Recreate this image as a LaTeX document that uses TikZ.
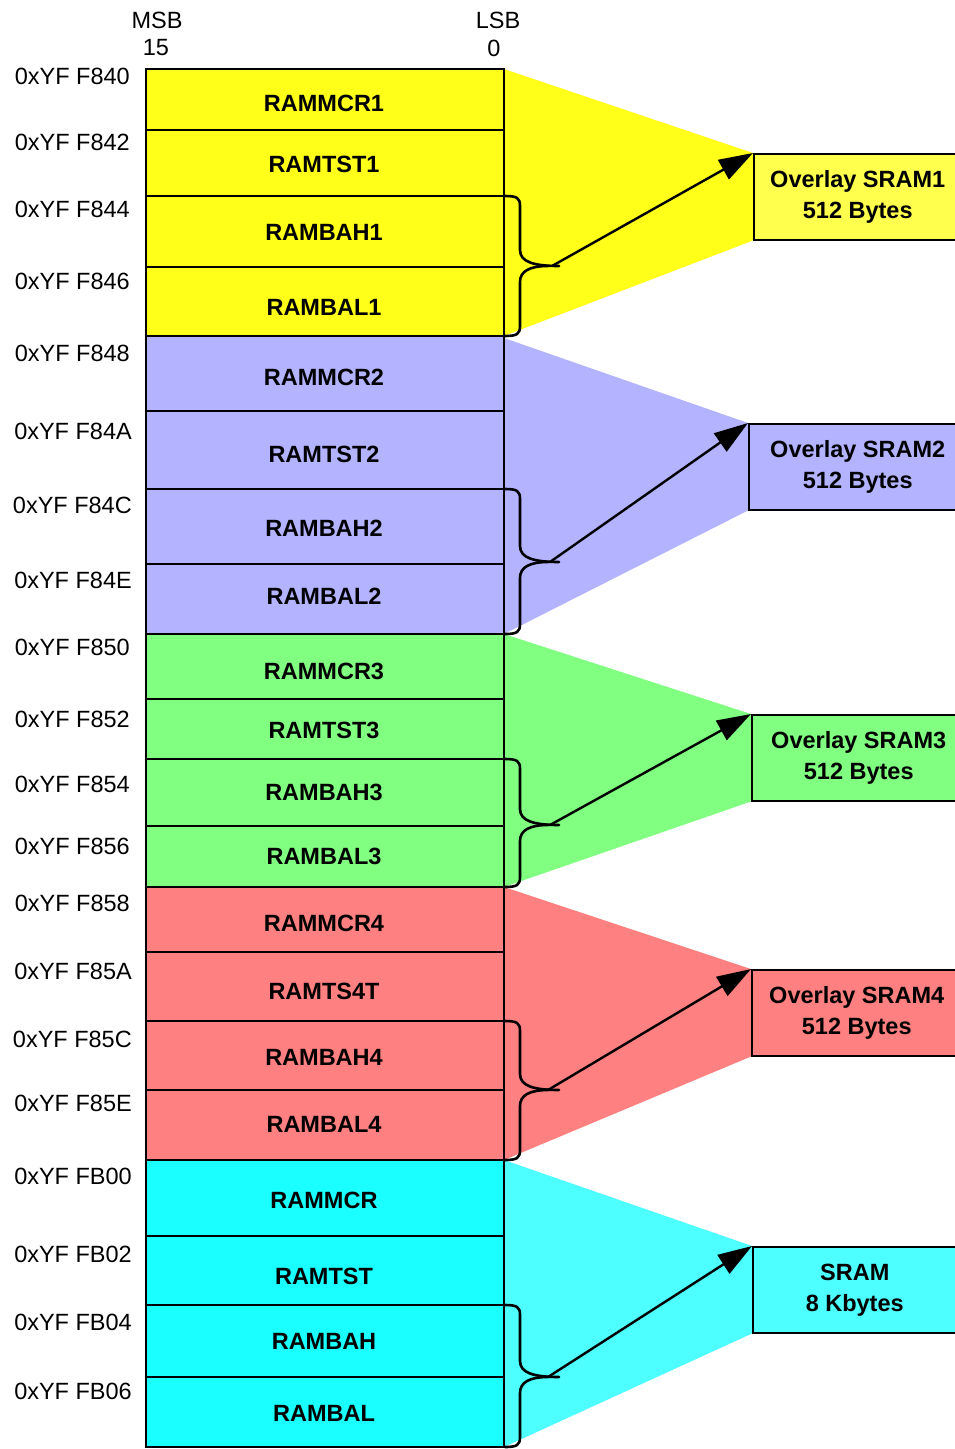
\documentclass[tikz,border=0pt]{standalone}
\usepackage{fontspec}
\setmainfont{Liberation Sans}
\usetikzlibrary{arrows.meta}
\pgfdeclarelayer{bg}
\pgfsetlayers{bg,main}
\definecolor{cY}{HTML}{FFFF1A}
\definecolor{cYb}{HTML}{FFFF4D}
\definecolor{cB}{HTML}{B3B3FF}
\definecolor{cG}{HTML}{80FF80}
\definecolor{cR}{HTML}{FF8080}
\definecolor{cC}{HTML}{1AFFFF}
\definecolor{cCb}{HTML}{4DFFFF}
\newcommand\mybrace[3]{%
 \draw[brace] (505,#1) .. controls (517,#1) and (520,#1+2) .. (520,#1+10) -- (520,#2-16) .. controls (520,#2-4) and (534,#2) .. (559,#2);
 \draw[brace] (548,#2) .. controls (530,#2) and (520,#2+5) .. (520,#2+16) -- (520,#3-10) .. controls (520,#3-2) and (517,#3) .. (505,#3);
}
\begin{document}
\begin{tikzpicture}[x=1pt,y=-1pt,
 reg/.style={draw=black, line width=2pt},
 regtxt/.style={font=\fontsize{23.5}{28}\selectfont\bfseries, inner sep=0pt},
 addr/.style={font=\fontsize{23.5}{28}\selectfont, anchor=east, inner sep=0pt},
 hdr/.style={font=\fontsize{23.5}{28}\selectfont, inner sep=0pt},
 obox/.style={draw=black, line width=1.5pt, anchor=north west, font=\fontsize{23.5}{31}\selectfont\bfseries, align=center, inner sep=0pt, minimum height=86pt},
 brace/.style={line width=2.6pt, line cap=round},
 arr/.style={line width=2.4pt, -{Triangle[length=34pt,width=22pt]}},
]
\useasboundingbox (0,0) rectangle (954,1449);

% header
\node[hdr] (msb) at (157,20) {MSB};
\node[hdr] (b15) at (156,48) {15};
\node[hdr] (lsb) at (498,20) {LSB};
\node[hdr] (b0) at (494,48) {0};

% right boxes
\node[obox, fill=cYb, minimum width=208pt] (o1) at (753,153) {Overlay SRAM1\\512 Bytes};
\node[obox, fill=cB, minimum width=218pt] (o2) at (748,423) {Overlay SRAM2\\512 Bytes};
\node[obox, fill=cG, minimum width=214pt] (o3) at (751,714) {Overlay SRAM3\\512 Bytes};
\node[obox, fill=cR, minimum width=210pt] (o4) at (751,969) {Overlay SRAM4\\512 Bytes};
\node[obox, fill=cCb, minimum width=204pt] (o5) at (752,1246) {SRAM\\8 Kbytes};

% fans
\begin{pgfonlayer}{bg}
\fill[cY] (504,69) -- (o1.north west) -- (o1.south west) -- (504,336) -- cycle;
\fill[cB] (504,338) -- (o2.north west) -- (o2.south west) -- (504,634) -- cycle;
\fill[cG] (504,634) -- (o3.north west) -- (o3.south west) -- (504,887) -- cycle;
\fill[cR] (504,887) -- (o4.north west) -- (o4.south west) -- (504,1160) -- cycle;
\fill[cCb] (504,1160) -- (o5.north west) -- (o5.south west) -- (504,1447) -- cycle;
\end{pgfonlayer}

% registers
\draw[reg, fill=cY] (146,69) rectangle (504,130);
\draw[reg, fill=cY] (146,130) rectangle (504,196);
\draw[reg, fill=cY] (146,196) rectangle (504,267);
\draw[reg, fill=cY] (146,267) rectangle (504,336);
\draw[reg, fill=cB] (146,336) rectangle (504,411);
\draw[reg, fill=cB] (146,411) rectangle (504,489);
\draw[reg, fill=cB] (146,489) rectangle (504,564);
\draw[reg, fill=cB] (146,564) rectangle (504,634);
\draw[reg, fill=cG] (146,634) rectangle (504,699);
\draw[reg, fill=cG] (146,699) rectangle (504,759);
\draw[reg, fill=cG] (146,759) rectangle (504,826);
\draw[reg, fill=cG] (146,826) rectangle (504,887);
\draw[reg, fill=cR] (146,887) rectangle (504,952);
\draw[reg, fill=cR] (146,952) rectangle (504,1021);
\draw[reg, fill=cR] (146,1021) rectangle (504,1090);
\draw[reg, fill=cR] (146,1090) rectangle (504,1160);
\draw[reg, fill=cC] (146,1160) rectangle (504,1236);
\draw[reg, fill=cC] (146,1236) rectangle (504,1305);
\draw[reg, fill=cC] (146,1305) rectangle (504,1377);
\draw[reg, fill=cC] (146,1377) rectangle (504,1447);

\node[regtxt] (r1) at (324,103) {RAMMCR1};
\node[regtxt] (r2) at (324,164) {RAMTST1};
\node[regtxt] (r3) at (324,232) {RAMBAH1};
\node[regtxt] (r4) at (324,307) {RAMBAL1};
\node[regtxt] (r5) at (324,377) {RAMMCR2};
\node[regtxt] (r6) at (324,454) {RAMTST2};
\node[regtxt] (r7) at (324,528) {RAMBAH2};
\node[regtxt] (r8) at (324,596) {RAMBAL2};
\node[regtxt] (r9) at (324,671) {RAMMCR3};
\node[regtxt] (r10) at (324,730) {RAMTST3};
\node[regtxt] (r11) at (324,792) {RAMBAH3};
\node[regtxt] (r12) at (324,856) {RAMBAL3};
\node[regtxt] (r13) at (324,923) {RAMMCR4};
\node[regtxt] (r14) at (324,991) {RAMTS4T};
\node[regtxt] (r15) at (324,1057) {RAMBAH4};
\node[regtxt] (r16) at (324,1124) {RAMBAL4};
\node[regtxt] (r17) at (324,1200) {RAMMCR};
\node[regtxt] (r18) at (324,1276) {RAMTST};
\node[regtxt] (r19) at (324,1341) {RAMBAH};
\node[regtxt] (r20) at (324,1413) {RAMBAL};

% addresses
\node[addr] (a1) at (130,76) {0xYF F840};
\node[addr] (a2) at (130,142) {0xYF F842};
\node[addr] (a3) at (130,209) {0xYF F844};
\node[addr] (a4) at (130,281) {0xYF F846};
\node[addr] (a5) at (130,353) {0xYF F848};
\node[addr] (a6) at (132,431) {0xYF F84A};
\node[addr] (a7) at (132,505) {0xYF F84C};
\node[addr] (a8) at (132,580) {0xYF F84E};
\node[addr] (a9) at (130,647) {0xYF F850};
\node[addr] (a10) at (130,719) {0xYF F852};
\node[addr] (a11) at (130,784) {0xYF F854};
\node[addr] (a12) at (130,846) {0xYF F856};
\node[addr] (a13) at (130,903) {0xYF F858};
\node[addr] (a14) at (132,971) {0xYF F85A};
\node[addr] (a15) at (132,1039) {0xYF F85C};
\node[addr] (a16) at (132,1103) {0xYF F85E};
\node[addr] (a17) at (132,1176) {0xYF FB00};
\node[addr] (a18) at (132,1254) {0xYF FB02};
\node[addr] (a19) at (132,1322) {0xYF FB04};
\node[addr] (a20) at (132,1391) {0xYF FB06};

% braces
\mybrace{196}{266}{336}
\mybrace{489}{562}{634}
\mybrace{759}{825}{887}
\mybrace{1021}{1090}{1160}
\mybrace{1305}{1377}{1447}

\coordinate (t1) at (552,266);
\coordinate (t2) at (550,562);
\coordinate (t3) at (550,825);
\coordinate (t4) at (548,1090);
\coordinate (t5) at (548,1377);

% arrows
\draw[arr] (t1) -- (o1.north west);
\draw[arr] (t2) -- (o2.north west);
\draw[arr] (t3) -- (o3.north west);
\draw[arr] (t4) -- (o4.north west);
\draw[arr] (t5) -- (o5.north west);
\end{tikzpicture}
\end{document}
